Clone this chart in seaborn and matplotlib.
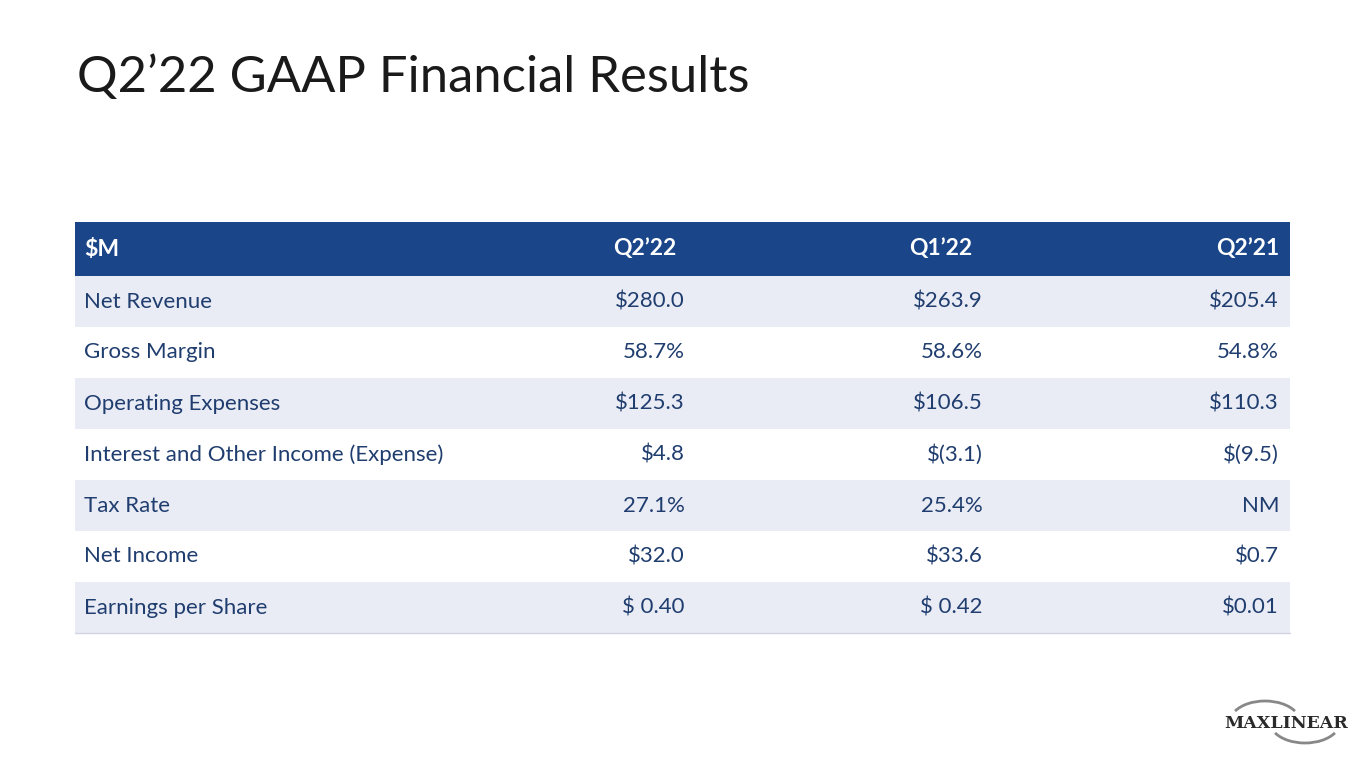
import matplotlib.pyplot as plt
import seaborn as sns
from matplotlib.patches import Rectangle, Arc

sns.set_theme(style="white")
plt.rcParams['font.family'] = ['Lato', 'DejaVu Sans']

title = "Q2\u201922 GAAP Financial Results"
columns = ["$M", "Q2\u201922", "Q1\u201922", "Q2\u201921"]
row_labels = ["Net Revenue", "Gross Margin", "Operating Expenses",
              "Interest and Other Income (Expense)", "Tax Rate", "Net Income",
              "Earnings per Share"]
q2_22 = ["$280.0", "58.7%", "$125.3", "$4.8", "27.1%", "$32.0", "$ 0.40"]
q1_22 = ["$263.9", "58.6%", "$106.5", "$(3.1)", "25.4%", "$33.6", "$ 0.42"]
q2_21 = ["$205.4", "54.8%", "$110.3", "$(9.5)", "NM", "$0.7", "$0.01"]

header_col = "#1A4589"
band_col = "#E9EBF5"
text_col = "#1F3D6E"

fig = plt.figure(figsize=(13.65, 7.68), dpi=100)
ax = fig.add_axes([0, 0, 1, 1])
ax.set_xlim(0, 1365)
ax.set_ylim(768, 0)
ax.axis("off")

ax.text(77, 78, title, fontsize=36.5, color="#1a1a1a", va="center", ha="left")

left, right = 75, 1290
top, hh, rh = 222, 54, 51
ax.add_patch(Rectangle((left, top), right - left, hh, color=header_col, lw=0))
hy = top + hh / 2
ax.text(84, hy, columns[0], color="white", fontsize=16.5, weight="bold", va="center")
for x, c in zip([676, 972, 1279], columns[1:]):
    ax.text(x, hy, c, color="white", fontsize=16.5, weight="bold", va="center", ha="right")

for i, lab in enumerate(row_labels):
    y0 = top + hh + i * rh
    if i % 2 == 0:
        ax.add_patch(Rectangle((left, y0), right - left, rh, color=band_col, lw=0))
    yc = y0 + rh / 2
    ax.text(84, yc, lab, color=text_col, fontsize=16, va="center")
    for x, vals in zip([685, 983, 1279], [q2_22, q1_22, q2_21]):
        ax.text(x, yc, vals[i], color=text_col, fontsize=16, va="center", ha="right")
ybot = top + hh + len(row_labels) * rh
ax.plot([left, right], [ybot, ybot], color="#D0D4E4", lw=1)

# logo
ax.add_patch(Arc((1265, 722), 70, 42, theta1=200, theta2=340, color="#888888", lw=2))
ax.add_patch(Arc((1305, 722), 70, 42, theta1=20, theta2=160, color="#888888", lw=2))
ax.text(1286, 723, "MAXLINEAR", fontsize=12.5, family="DejaVu Serif", weight="bold",
        color="#2a2a2a", ha="center", va="center")

fig.savefig("out.png", dpi=100)
